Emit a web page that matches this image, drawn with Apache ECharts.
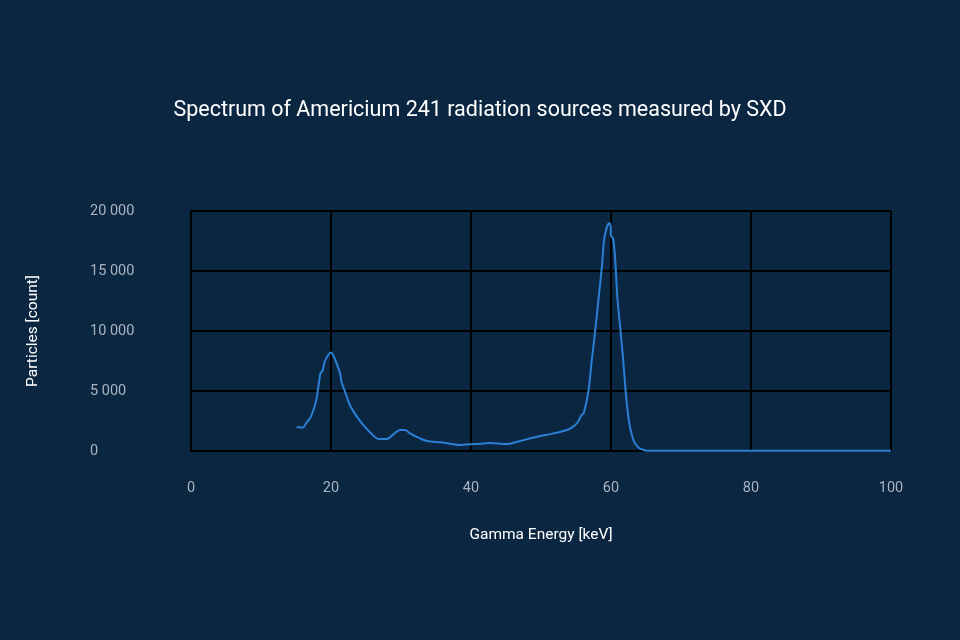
<!DOCTYPE html>
<html>
<head>
<meta charset="utf-8">
<title>Americium 241 spectrum</title>
<script src="https://cdn.jsdelivr.net/npm/echarts@6/dist/echarts.min.js"></script>
<style>
  html, body { margin: 0; padding: 0; background: #0a2640; }
  #spectrum { width: 960px; height: 640px; }
</style>
</head>
<body>
<div id="spectrum"></div>
<script>
// gamma energy [keV]
const energy = [
  15.1, 16.0, 16.3, 16.5, 17.0, 17.5, 17.9, 18.2, 18.5, 18.8, 19.1, 19.6, 20.0,
  20.3, 20.8, 21.3, 21.5, 22.0, 22.7, 23.7, 24.6, 25.6, 26.8, 28.0, 28.7, 29.9,
  30.6, 31.3, 32.5, 33.7, 35.6, 37.0, 38.4, 39.9, 41.3, 42.7, 45.1, 47.0, 49.4,
  51.8, 53.7, 54.6, 55.3, 55.8, 56.1, 56.8, 57.2, 57.7, 58.2, 58.7, 59.0, 59.3,
  59.6, 59.8, 59.96, 60.0, 60.3, 60.6, 60.9, 61.3, 61.7, 62.0, 62.3, 62.7, 63.2,
  63.6, 64.1, 65.1, 70, 80, 90, 100
];
// particles [count]
const counts = [
  2000, 1950, 2170, 2360, 2720, 3420, 4250, 5360, 6470, 6700, 7440, 8000, 8200,
  8000, 7300, 6470, 5780, 4940, 3830, 2860, 2170, 1550, 1000, 1000, 1280, 1750,
  1750, 1470, 1110, 830, 720, 610, 500, 560, 610, 670, 580, 830, 1190,
  1470, 1750, 2030, 2440, 3000, 3140, 5080, 7300, 9800, 12580, 15360, 17580, 18420,
  18920, 18970, 18690, 17920, 17720, 15920, 12860, 10360, 7860, 5640, 3690, 2030, 920,
  500, 220, 30, 20, 20, 20, 20
];
const xTicks = [0, 20, 40, 60, 80, 100];
const yTicks = [0, 5000, 10000, 15000, 20000];

let chart = echarts.init(document.getElementById("spectrum"));
let option = {
  backgroundColor: "#0a2640",
  textStyle: { fontFamily: "Roboto" },
  title: {
    text: "Spectrum of Americium 241 radiation sources measured by SXD",
    left: "center",
    top: 95,
    textStyle: { color: "#ffffff", fontSize: 21.5, fontWeight: "normal", fontFamily: "Roboto" }
  },
  grid: { left: 191, right: 69, top: 211, bottom: 189 },
  xAxis: {
    type: "value",
    min: xTicks[0],
    max: xTicks[xTicks.length - 1],
    interval: 20,
    name: "Gamma Energy [keV]",
    nameLocation: "middle",
    nameGap: 76,
    nameTextStyle: { color: "#ffffff", fontSize: 15.5 },
    axisLine: { lineStyle: { color: "#000000", width: 2 } },
    axisTick: { show: false },
    axisLabel: { color: "#a9b4c2", fontSize: 14.5, margin: 30 },
    splitLine: { show: true, lineStyle: { color: "#000000", width: 2 } }
  },
  yAxis: {
    type: "value",
    min: yTicks[0],
    max: yTicks[yTicks.length - 1],
    interval: 5000,
    name: "Particles [count]",
    nameLocation: "middle",
    nameGap: 150,
    nameTextStyle: { color: "#ffffff", fontSize: 15.5 },
    axisLine: { show: true, lineStyle: { color: "#000000", width: 2 } },
    axisTick: { show: false },
    axisLabel: {
      color: "#a9b4c2",
      fontSize: 14.5,
      margin: 101,
      align: "left",
      formatter: function (v) {
        return String(v).replace(/\B(?=(\d{3})+(?!\d))/g, " ");
      }
    },
    splitLine: { show: true, lineStyle: { color: "#000000", width: 2 } }
  },
  series: [
    {
      type: "line",
      data: energy.map((e, i) => [e, counts[i]]),
      smooth: 0.3,
      symbol: "none",
      lineStyle: { color: "#2b80d6", width: 2 },
      animation: false
    }
  ]
};
chart.setOption(option);
</script>
</body>
</html>
